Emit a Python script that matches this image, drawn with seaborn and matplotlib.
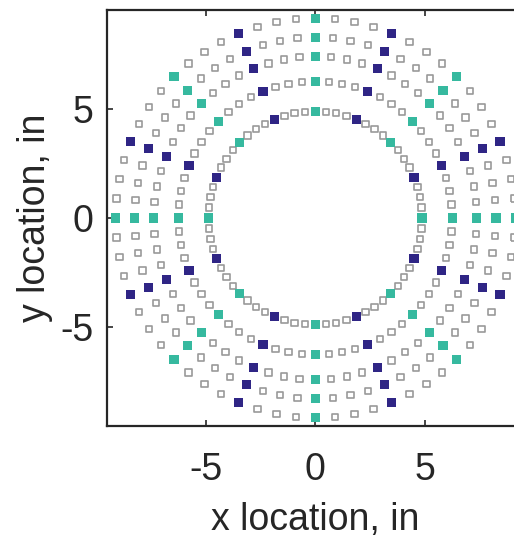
import numpy as np
import pandas as pd
import matplotlib
matplotlib.use("Agg")
import matplotlib.pyplot as plt
import seaborn as sns

# Sensor layout: concentric rings, equally spaced positions on each ring
ring_radii = [4.875, 6.25, 7.375, 8.25, 9.125]   # in
points_per_ring = 64
# position index (mod 8) -> sensor type
type_by_index = {0: "primary", 4: "secondary"}
x_ticks = [-5, 0, 5]
y_ticks = [-5, 0, 5]

rows = []
for r in ring_radii:
    for k in range(points_per_ring):
        theta = 2 * np.pi * k / points_per_ring
        rows.append({
            "x": r * np.cos(theta),
            "y": r * np.sin(theta),
            "kind": type_by_index.get(k % 8, "other"),
        })
df = pd.DataFrame(rows)

sns.set_style("ticks")
plt.rcParams["font.family"] = ["Liberation Sans", "DejaVu Sans"]

ink = "#262626"
teal = "#36b99f"
navy = "#2f2585"
gray = "#999999"

fig = plt.figure(figsize=(5.14, 5.40), dpi=100)
ax = fig.add_axes([0.2088, 0.2111, 0.8094, 0.7704])

sns.scatterplot(data=df[df["kind"] == "other"], x="x", y="y", ax=ax,
                marker="s", s=21, facecolor="none", edgecolor=gray,
                linewidth=1.2, legend=False)
sns.scatterplot(data=df[df["kind"] != "other"], x="x", y="y", hue="kind",
                palette={"primary": teal, "secondary": navy}, ax=ax,
                marker="s", s=44, linewidth=0, legend=False)

ax.set_xlim(-9.5, 9.5)
ax.set_ylim(-9.5, 9.5)
ax.set_aspect("auto")
ax.set_xticks(x_ticks)
ax.set_yticks(y_ticks)
ax.set_xticklabels([str(v) for v in x_ticks])
ax.set_yticklabels([str(v) for v in y_ticks])
ax.tick_params(direction="in", length=4, width=1.2, colors=ink,
               labelsize=27, top=True, right=True)
ax.tick_params(axis="x", pad=19)
ax.tick_params(axis="y", pad=10)
for s in ax.spines.values():
    s.set_color(ink)
    s.set_linewidth(1.6)
    s.set_visible(True)

ax.set_xlabel("x location, in", fontsize=27, color=ink, labelpad=10)
ax.set_ylabel("y location, in", fontsize=27, color=ink, labelpad=5)

fig.savefig("out.png", dpi=100, facecolor="white")
